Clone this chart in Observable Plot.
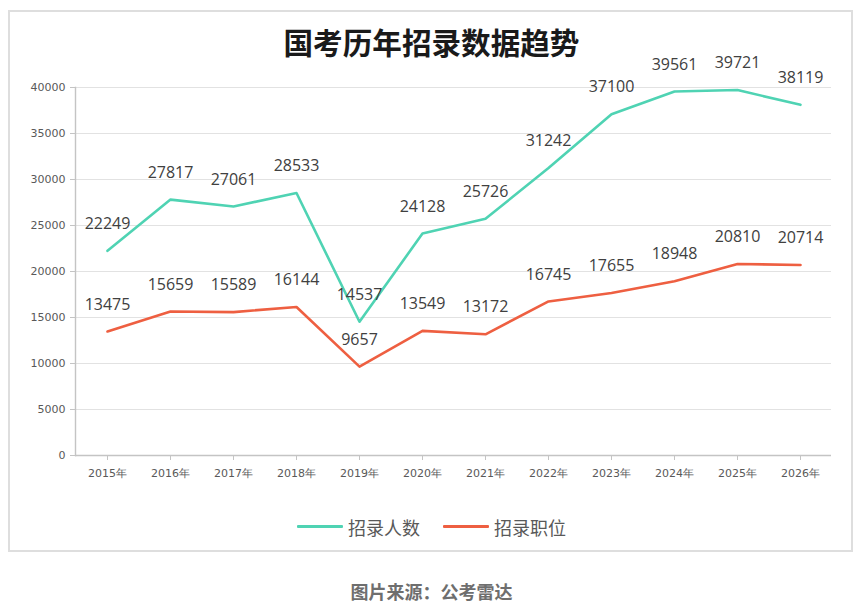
<!DOCTYPE html>
<html>
<head>
<meta charset="utf-8">
<script src="https://cdn.jsdelivr.net/npm/d3@7"></script>
<script src="https://cdn.jsdelivr.net/npm/@observablehq/plot@0.6"></script>
<style>
  html, body { margin: 0; padding: 0; background: #fff; }
  body { width: 863px; height: 606px; position: relative; overflow: hidden; font-family: "Noto Sans CJK SC", sans-serif; }
  #frame { position: absolute; left: 8px; top: 10px; width: 845px; height: 542px; border: 2px solid #dedede; box-sizing: border-box; }
  #title { position: absolute; left: 0; width: 863px; top: 24px; text-align: center; font-size: 32px; font-weight: 700; line-height: 36px; color: #1a1a1a; }
  #title span { white-space: nowrap; }
  #chart { position: absolute; left: 0; top: 0; }
  #legend { position: absolute; left: 0; width: 863px; top: 515px; display: flex; justify-content: center; align-items: center; gap: 23px; font-size: 18px; line-height: 24px; color: #595959; }
  .item { display: flex; align-items: center; gap: 5px; }
  .swatch { width: 46px; height: 3px; border-radius: 1px; margin-top: -2px; }
  #caption { position: absolute; left: 0; width: 863px; top: 579px; text-align: center; font-size: 18px; font-weight: 700; line-height: 24px; color: #6e6e6e; }
</style>
</head>
<body>
<div id="frame"></div>
<div id="chart"></div>
<div id="title"><span></span></div>
<div id="legend"></div>
<div id="caption"></div>
<script>
const titleText = "国考历年招录数据趋势";
const captionText = "图片来源：公考雷达";
const years = ["2015年","2016年","2017年","2018年","2019年","2020年","2021年","2022年","2023年","2024年","2025年","2026年"];
const applicants = [22249, 27817, 27061, 28533, 14537, 24128, 25726, 31242, 37100, 39561, 39721, 38119];
const positions = [13475, 15659, 15589, 16144, 9657, 13549, 13172, 16745, 17655, 18948, 20810, 20714];
const yTicks = [0, 5000, 10000, 15000, 20000, 25000, 30000, 35000, 40000];
const seriesNames = ["招录人数", "招录职位"];
const seriesColors = ["#4fd3b3", "#ee5f41"];

const data = years.flatMap((yr, i) => [
  {year: yr, value: applicants[i], series: seriesNames[0]},
  {year: yr, value: positions[i], series: seriesNames[1]}
]);

const chart = Plot.plot({
  width: 863,
  height: 500,
  marginLeft: 75,
  marginRight: 32,
  marginTop: 87,
  marginBottom: 45,
  x: {type: "point", domain: years, padding: 0.5},
  y: {domain: [0, 40000]},
  color: {domain: seriesNames, range: seriesColors},
  style: {background: "transparent", fontFamily: "DejaVu Sans", fontSize: "11px", color: "#595959", overflow: "visible"},
  marks: [
    Plot.gridY(yTicks, {stroke: "#e2e2e2", strokeOpacity: 1, strokeWidth: 1.2}),
    Plot.ruleY([0], {stroke: "#c4c4c4", strokeWidth: 1.4}),
    Plot.frame({anchor: "left", stroke: "#c4c4c4", strokeWidth: 1.4}),
    Plot.axisY(yTicks, {tickSize: 5, tickPadding: 5, tickFormat: d => String(d), label: null, stroke: "#c4c4c4", fill: "#595959"}),
    Plot.axisX({tickSize: 5, tickPadding: 9, label: null, stroke: "#c4c4c4", fill: "#595959"}),
    Plot.line(data, {x: "year", y: "value", z: "series", stroke: "series", strokeWidth: 2.6}),
    Plot.text(data, {x: "year", y: "value", text: d => String(d.value), dy: -27, fontSize: 16, fill: "#404040", fontFamily: "Open Sans"})
  ]
});
document.getElementById("chart").appendChild(chart);

const titleSpan = document.querySelector("#title span");
titleSpan.textContent = titleText;
const w = titleSpan.getBoundingClientRect().width;
if (w > 0) {
  const fs = Math.max(26, Math.min(34, 32 * 296 / w));
  document.getElementById("title").style.fontSize = fs.toFixed(1) + "px";
}
document.getElementById("caption").textContent = captionText;
const legend = document.getElementById("legend");
seriesNames.forEach((name, i) => {
  const item = document.createElement("div");
  item.className = "item";
  const sw = document.createElement("div");
  sw.className = "swatch";
  sw.style.background = seriesColors[i];
  const label = document.createElement("span");
  label.textContent = name;
  item.appendChild(sw);
  item.appendChild(label);
  legend.appendChild(item);
});
</script>
</body>
</html>
